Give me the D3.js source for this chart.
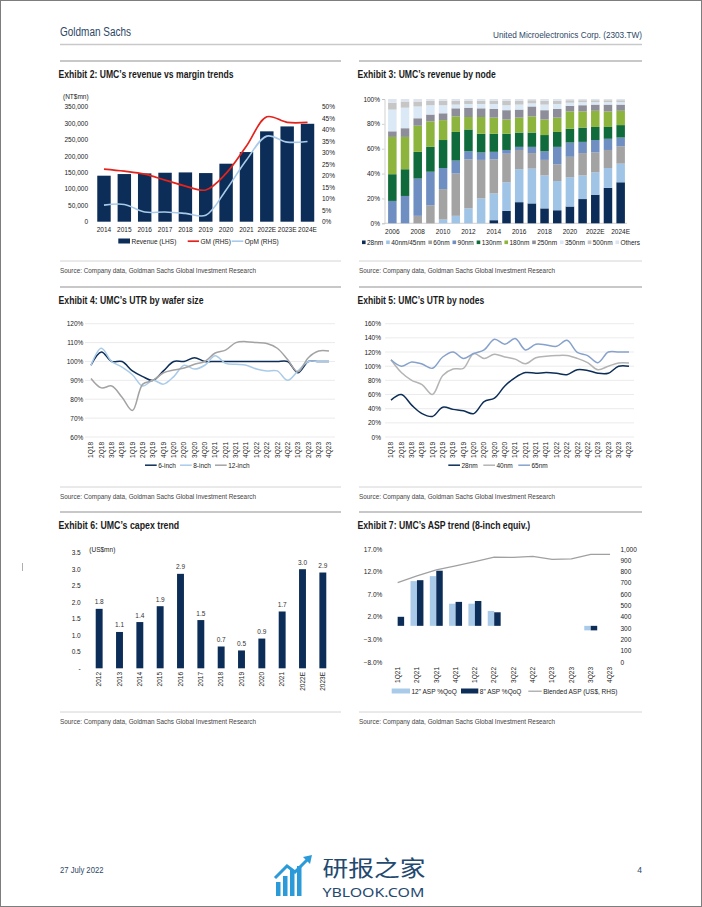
<!DOCTYPE html>
<html>
<head>
<meta charset="utf-8">
<title>UMC exhibits</title>
<script src="https://cdn.jsdelivr.net/npm/d3@7"></script>
<style>
  body { margin: 0; background: #fff; }
  svg { display: block; }
</style>
</head>
<body>
<svg id="page" width="702" height="907"></svg>
<script>
// ---------- data ----------

// Exhibit 2: revenue (NT$mn) and margins (%)
var revYears = ['2014','2015','2016','2017','2018','2019','2020','2021','2022E','2023E','2024E'];
var revenue = [140000,145000,147000,149000,150000,148000,176500,212000,275000,290000,298000];
var grossMargin = [22.9,22.0,20.7,18.1,15.5,13.8,21.0,32.9,45.6,43.2,43.2];
var opMargin = [7.2,7.5,4.2,4.2,3.6,2.8,13.8,26.8,37.2,34.6,34.9];
var revTicks = [0,50000,100000,150000,200000,250000,300000,350000];
var marginTicks = [0,5,10,15,20,25,30,35,40,45,50];

// Exhibit 3: revenue share by node (%)
var nodeYears = ['2006','2007','2008','2009','2010','2011','2012','2013','2014','2015','2016','2017','2018','2019','2020','2021','2022E','2023E','2024E'];
var nodeNames = ['28nm','40nm/45nm','60nm','90nm','130nm','180nm','250nm','350nm','500nm','Others'];
var node28 = [0,0,0,0,0,0,0,0,2.5,10,17,16,12,10.5,13.5,19.5,23,28.5,33];
var node40 = [0,0,0,0,3,6,12,20,21.5,23,26.5,28,26.5,23.5,23.5,19,18,16,15];
var node60 = [0,0,6,14.5,24.5,34,39.5,31,27.5,23,15.5,12.5,12.5,13.5,16.5,18,16,14.5,14];
var node90 = [18,22,30,27,17,10.5,6.5,6,6,3,2.5,5,7,14,11.5,9,10,9,7];
var node130 = [21.5,21.5,21.5,20,22.5,23,17.5,15,14.5,13,11.5,11.5,13,12,11,11.5,10.5,9.5,10];
var node180 = [30,26,21,20.5,16,12.5,10,13.5,13,11.5,12,13,12.5,11.5,14,13,13,12.5,11.5];
var node250 = [4.5,7,6,5.5,5.5,6.5,7.5,7,7,7.5,6.5,8,7.5,7,4.5,5,5,5.5,5];
var node350 = [17.5,16.5,9.5,7.5,6.5,3,3,3.5,4,4,4,2.5,4.5,4,2.5,2.5,2,2,2];
var node500 = [5.5,5,4,3.5,3.5,3,2.5,2.5,2.5,3.5,3,2.5,3,2.5,2,1.5,1.5,1.5,1.5];
var nodeOthers = [3,2,2,1.5,1.5,1.5,1.5,1.5,1.5,1.5,1.5,1,1.5,1.5,1,1,1,1,1];
var shareTicks = [0,20,40,60,80,100];

// Exhibits 4 and 5: utilisation (%)
var utrQuarters = ['1Q18','2Q18','3Q18','4Q18','1Q19','2Q19','3Q19','4Q19','1Q20','2Q20','3Q20','4Q20',
                   '1Q21','2Q21','3Q21','4Q21','1Q22','2Q22','3Q22','4Q22','1Q23','2Q23','3Q23','4Q23'];
var utr6inch = [98,105,100,100,95,92,90,95,100,100,102,100,100,100,100,100,100,100,100,100,94,100,100,100];
var utr8inch = [98,107,100,97,93,87,90,88,92,98,96,98,103,99,98.5,98,96,95,95,90,95,100,100,100];
var utr12inch = [91,86,87,81,74,88,90,94,95.5,96.5,98.5,100,104.5,106,110,110.5,110,109.5,107,101,94.5,102,105.5,105.5];
var waferTicks = [60,70,80,90,100,110,120];
var utr28 = [52,60,45,33,29,42,39,37,33,50,55,72,84,91,90,91,90,88,95,94,90,90,100,100];
var utr40 = [109,91,80,74,60,87,96,97,118,111,117,113,110,103.5,112,114,115,115,111,105,95,100,104.5,104.5];
var utr65 = [109,100,106,103,97,113,120,111,118,123,138,131,139,123,131,130,128,136.5,119.5,115,105,120,120,120];
var nodeUtrTicks = [0,20,40,60,80,100,120,140,160];

// Exhibit 6: capex
var capexYears = ['2012','2013','2014','2015','2016','2017','2018','2019','2020','2021','2022E','2023E'];
var capex = [1.8,1.1,1.4,1.88,2.86,1.46,0.66,0.54,0.9,1.72,3.0,2.9];
var capexTicks = [0,0.5,1,1.5,2,2.5,3,3.5];

// Exhibit 7: ASP trend
var aspQuarters = ['1Q21','2Q21','3Q21','4Q21','1Q22','2Q22','3Q22','4Q22','1Q23','2Q23','3Q23','4Q23'];
var asp12 = [0,9.9,11.0,4.9,4.9,3.3,0,0,0,0,-1.0,0];
var asp8 = [2.0,10.1,12.2,5.3,5.5,3.0,0,0,0,0,-1.0,0];
var blendedAsp = [702,762,815,850,888,928,926,935,908,913,952,952];
var aspPctTicks = [-8,-3,2,7,12,17];
var aspUsdTicks = [0,100,200,300,400,500,600,700,800,900,1000];

// ---------- styles ----------
var SANS = "'Liberation Sans', Arial, Helvetica, sans-serif";
var NARROW = "'Liberation Sans Narrow', 'Arial Narrow', 'Liberation Sans', sans-serif";
var NAVY = '#0c2d57';
var LIGHTBLUE = '#a9cbe9';
var GREY = '#a3a3a3';
var nodeColors = ['#0c2d57','#9fc4e6','#a3a3a3','#6f8fc2','#0f6b3b','#8db43c','#8d8e99','#dbe8f5','#c6c6c6','#dde4ee'];
var TEXT = '#222';
var FS = 6.5;

var svg = d3.select('#page');

svg.append('rect').attr('x', 0.5).attr('y', 0.5).attr('width', 701).attr('height', 906)
    .attr('fill', '#fff').attr('stroke', '#7d7d7d');

// header
svg.append('text').attr('x', 60).attr('y', 36)
    .attr('font-family', NARROW).attr('font-size', 12.5).attr('fill', '#2d4766')
    .attr('textLength', 71).attr('lengthAdjust', 'spacingAndGlyphs')
    .text('Goldman Sachs');
svg.append('text').attr('x', 642).attr('y', 37.5).attr('text-anchor', 'end')
    .attr('font-family', NARROW).attr('font-size', 9.5).attr('fill', '#2d4766')
    .attr('textLength', 149).attr('lengthAdjust', 'spacingAndGlyphs')
    .text('United Microelectronics Corp. (2303.TW)');
svg.append('line').attr('x1', 60).attr('x2', 642).attr('y1', 44.5).attr('y2', 44.5)
    .attr('stroke', '#c9c9c9').attr('stroke-width', 1.6);

// small mark in the left margin
svg.append('line').attr('x1', 22.5).attr('x2', 22.5).attr('y1', 563).attr('y2', 571)
    .attr('stroke', '#9a9a9a').attr('stroke-width', 0.8);

function panel(x0, x1, top, title, titleWidth) {
    var g = svg.append('g');
    g.append('line').attr('x1', x0).attr('x2', x1).attr('y1', top).attr('y2', top)
        .attr('stroke', '#c8c8c8').attr('stroke-width', 2);
    g.append('text').attr('x', x0 - 1.5).attr('y', top + 16.5)
        .attr('font-family', NARROW).attr('font-weight', 'bold').attr('font-size', 11)
        .attr('fill', '#1b1b1b')
        .attr('textLength', titleWidth).attr('lengthAdjust', 'spacingAndGlyphs')
        .text(title);
    g.append('line').attr('x1', x0).attr('x2', x1).attr('y1', top + 200).attr('y2', top + 200)
        .attr('stroke', '#d4d4d4').attr('stroke-width', 1);
    g.append('text').attr('x', x0).attr('y', top + 211.5)
        .attr('font-family', NARROW).attr('font-size', 7.5).attr('fill', '#444')
        .attr('textLength', 196).attr('lengthAdjust', 'spacingAndGlyphs')
        .text('Source: Company data, Goldman Sachs Global Investment Research');
    return g;
}

function yAxis(g, scale, ticks, fmt, x, side) {
    var ax = (side === 'left' ? d3.axisLeft(scale) : d3.axisRight(scale))
        .tickValues(ticks).tickFormat(fmt).tickSize(0).tickPadding(0);
    var a = g.append('g').attr('transform', 'translate(' + x + ',0)').call(ax);
    a.select('.domain').remove();
    a.selectAll('text').attr('font-family', SANS).attr('font-size', FS).attr('fill', TEXT);
    return a;
}

function rotatedLabels(g, cats, xpos, top) {
    g.selectAll(null).data(cats).enter().append('text')
        .attr('transform', function (d) { return 'translate(' + xpos(d) + ',' + top + ') rotate(-90)'; })
        .attr('text-anchor', 'end').attr('dy', '0.35em')
        .attr('font-family', SANS).attr('font-size', FS).attr('fill', TEXT)
        .text(function (d) { return d; });
}

function legendRect(g, x, y, w, color, txt) {
    g.append('rect').attr('x', x).attr('y', y - 5).attr('width', w).attr('height', 5).attr('fill', color);
    g.append('text').attr('x', x + w + 1.5).attr('y', y)
        .attr('font-family', SANS).attr('font-size', FS).attr('fill', TEXT).text(txt);
}

function legendLine(g, x, y, w, color, sw, txt) {
    g.append('line').attr('x1', x).attr('x2', x + w).attr('y1', y - 2.3).attr('y2', y - 2.3)
        .attr('stroke', color).attr('stroke-width', sw);
    g.append('text').attr('x', x + w + 1.5).attr('y', y)
        .attr('font-family', SANS).attr('font-size', FS).attr('fill', TEXT).text(txt);
}

var smooth = d3.curveCatmullRom.alpha(0.5);
var comma = d3.format(',');

// ---------- Exhibit 2 ----------
(function () {
    var g = panel(60, 341, 61, 'Exhibit 2: UMC\u2019s revenue vs margin trends', 175);
    var x = d3.scaleBand().domain(revYears).range([93.8, 317.7]).paddingInner(0.34).paddingOuter(0.17);
    var yL = d3.scaleLinear().domain([0, 350000]).range([221.7, 106.7]);
    var yR = d3.scaleLinear().domain([0, 50]).range([221.7, 106.7]);

    g.append('text').attr('x', 63).attr('y', 99).attr('font-family', SANS).attr('font-size', FS)
        .attr('fill', TEXT).text('(NT$mn)');
    yAxis(g, yL, revTicks, comma, 88, 'left');
    yAxis(g, yR, marginTicks, function (d) { return d + '%'; }, 322, 'right');

    g.selectAll('.rev').data(revenue).enter().append('rect')
        .attr('x', function (d, i) { return x(revYears[i]); })
        .attr('width', x.bandwidth())
        .attr('y', function (d) { return yL(d); })
        .attr('height', function (d) { return yL(0) - yL(d); })
        .attr('fill', NAVY);

    g.selectAll(null).data(revYears).enter().append('text')
        .attr('x', function (d) { return x(d) + x.bandwidth() / 2; }).attr('y', 232)
        .attr('text-anchor', 'middle').attr('font-family', SANS).attr('font-size', FS).attr('fill', TEXT)
        .text(function (d) { return d; });

    var line = d3.line()
        .x(function (d, i) { return x(revYears[i]) + x.bandwidth() / 2; })
        .y(function (d) { return yR(d); })
        .curve(smooth);
    g.append('path').datum(opMargin).attr('d', line).attr('fill', 'none')
        .attr('stroke', LIGHTBLUE).attr('stroke-width', 1.6);
    g.append('path').datum(grossMargin).attr('d', line).attr('fill', 'none')
        .attr('stroke', '#e3231c').attr('stroke-width', 1.7);

    legendRect(g, 118.3, 243.5, 11.7, NAVY, 'Revenue (LHS)');
    legendLine(g, 187.7, 243.5, 11.3, '#e3231c', 1.7, 'GM (RHS)');
    legendLine(g, 231.7, 243.5, 11.6, LIGHTBLUE, 1.6, 'OpM (RHS)');
})();

// ---------- Exhibit 3 ----------
(function () {
    var g = panel(359, 642, 61, 'Exhibit 3: UMC\u2019s revenue by node', 138.4);
    var x = d3.scaleBand().domain(nodeYears).range([386, 627]).paddingInner(0.33).paddingOuter(0.165);
    var y = d3.scaleLinear().domain([0, 100]).range([223.3, 99]);
    var series = [node28, node40, node60, node90, node130, node180, node250, node350, node500, nodeOthers];
    var table = nodeYears.map(function (yr, i) {
        var row = { year: yr };
        nodeNames.forEach(function (n, k) { row[n] = series[k][i]; });
        return row;
    });
    var stacked = d3.stack().keys(nodeNames)(table);

    var ax = d3.axisLeft(y).tickValues(shareTicks).tickFormat(function (d) { return d + '%'; })
        .tickSize(2.5).tickPadding(2);
    var a = g.append('g').attr('transform', 'translate(384.5,0)').call(ax);
    a.selectAll('line, path').attr('stroke', '#bdbdbd').attr('stroke-width', 0.7);
    a.selectAll('text').attr('font-family', SANS).attr('font-size', FS).attr('fill', TEXT);
    g.append('line').attr('x1', 384.5).attr('x2', 627).attr('y1', 223.3).attr('y2', 223.3)
        .attr('stroke', '#bdbdbd').attr('stroke-width', 0.7);

    g.selectAll('.layer').data(stacked).enter().append('g')
        .attr('fill', function (d, k) { return nodeColors[k]; })
        .selectAll('rect').data(function (d) { return d; }).enter().append('rect')
        .attr('x', function (d) { return x(d.data.year); })
        .attr('width', x.bandwidth())
        .attr('y', function (d) { return y(d[1]); })
        .attr('height', function (d) { return y(d[0]) - y(d[1]); });

    g.selectAll(null).data(nodeYears.filter(function (d, i) { return i % 2 === 0; })).enter().append('text')
        .attr('x', function (d) { return x(d) + x.bandwidth() / 2; }).attr('y', 233.5)
        .attr('text-anchor', 'middle').attr('font-family', SANS).attr('font-size', FS).attr('fill', TEXT)
        .text(function (d) { return d; });

    // legend laid out in one row from 362 to 640
    var lg = g.append('g');
    var items = lg.selectAll('g').data(nodeNames).enter().append('g');
    items.append('rect').attr('width', 3.6).attr('height', 3.6).attr('y', -4)
        .attr('fill', function (d, k) { return nodeColors[k]; });
    items.append('text').attr('x', 5).attr('y', 0).attr('font-family', SANS).attr('font-size', FS)
        .attr('fill', TEXT).text(function (d) { return d; });
    var widths = [];
    items.each(function () { widths.push(5 + d3.select(this).select('text').node().getComputedTextLength()); });
    var gap = (640 - 362 - d3.sum(widths)) / (nodeNames.length - 1);
    var cx = 362;
    items.attr('transform', function (d, k) { var t = 'translate(' + cx + ',244.5)'; cx += widths[k] + gap; return t; });
})();

// ---------- Exhibits 4 and 5 (utilisation lines) ----------
function utrChart(x0, x1, title, titleWidth, range, gridRange, labelX, domain, ticks, lines, legend) {
    var g = panel(x0, x1, 287, title, titleWidth);
    var x = d3.scalePoint().domain(utrQuarters).range(range);
    var y = d3.scaleLinear().domain(domain).range([437, 323.7]);

    g.selectAll('.grid').data(ticks).enter().append('line')
        .attr('x1', gridRange[0]).attr('x2', gridRange[1])
        .attr('y1', function (d) { return y(d); }).attr('y2', function (d) { return y(d); })
        .attr('stroke', '#e2e2e2').attr('stroke-width', 0.7);
    yAxis(g, y, ticks, function (d) { return d + '%'; }, labelX, 'left');
    rotatedLabels(g, utrQuarters, x, 442);

    var line = d3.line()
        .x(function (d, i) { return x(utrQuarters[i]); })
        .y(function (d) { return y(d); })
        .curve(smooth);
    lines.forEach(function (l) {
        g.append('path').datum(l.values).attr('d', line).attr('fill', 'none')
            .attr('stroke', l.color).attr('stroke-width', 1.5);
    });
    legend.forEach(function (l) { legendLine(g, l.x, 467.5, 11.7, l.color, 1.5, l.name); });
}

utrChart(60, 341, 'Exhibit 4: UMC\u2019s UTR by wafer size', 145, [91, 329], [85, 335], 83.3,
    [60, 120], waferTicks,
    [{ values: utr6inch, color: NAVY }, { values: utr8inch, color: LIGHTBLUE }, { values: utr12inch, color: GREY }],
    [{ x: 145, color: NAVY, name: '6-inch' }, { x: 180, color: LIGHTBLUE, name: '8-inch' }, { x: 215, color: GREY, name: '12-inch' }]);

utrChart(359, 642, 'Exhibit 5: UMC\u2019s UTR by nodes', 126.7, [391, 629], [385, 634], 381,
    [0, 160], nodeUtrTicks,
    [{ values: utr28, color: NAVY }, { values: utr40, color: '#b4b4b4' }, { values: utr65, color: '#86a2cc' }],
    [{ x: 448.3, color: NAVY, name: '28nm' }, { x: 483.3, color: '#b4b4b4', name: '40nm' }, { x: 518.3, color: '#86a2cc', name: '65nm' }]);

// ---------- Exhibit 6 ----------
(function () {
    var g = panel(60, 341, 512, 'Exhibit 6: UMC\u2019s capex trend', 120.7);
    var x = d3.scaleBand().domain(capexYears).range([89, 333]).paddingInner(0.66).paddingOuter(0.33);
    var y = d3.scaleLinear().domain([0, 3.5]).range([668.3, 552.7]);

    g.append('text').attr('x', 89.3).attr('y', 551.5).attr('font-family', SANS).attr('font-size', FS)
        .attr('fill', TEXT).text('(US$mn)');
    yAxis(g, y, capexTicks, function (d) { return d === 0 ? '-' : d3.format('.1f')(d); }, 80.7, 'left');

    g.selectAll('.capex').data(capex).enter().append('rect')
        .attr('x', function (d, i) { return x(capexYears[i]); })
        .attr('width', x.bandwidth())
        .attr('y', function (d) { return y(d); })
        .attr('height', function (d) { return y(0) - y(d); })
        .attr('fill', NAVY);
    g.selectAll('.capexLbl').data(capex).enter().append('text')
        .attr('x', function (d, i) { return x(capexYears[i]) + x.bandwidth() / 2; })
        .attr('y', function (d) { return y(d) - 4.5; })
        .attr('text-anchor', 'middle').attr('font-family', SANS).attr('font-size', FS).attr('fill', '#333')
        .text(function (d) { return d3.format('.1f')(d); });

    rotatedLabels(g, capexYears, function (d) { return x(d) + x.bandwidth() / 2; }, 672);
})();

// ---------- Exhibit 7 ----------
(function () {
    var g = panel(359, 642, 512, 'Exhibit 7: UMC\u2019s ASP trend (8-inch equiv.)', 172.7);
    var x = d3.scaleBand().domain(aspQuarters).range([388, 619.7]).paddingInner(0.33).paddingOuter(0.165);
    var inner = d3.scaleBand().domain(['12', '8']).range([0, x.bandwidth()]);
    var yL = d3.scaleLinear().domain([-8, 17]).range([662, 549]);
    var yR = d3.scaleLinear().domain([0, 1000]).range([662, 549]);

    yAxis(g, yL, aspPctTicks, function (d) { return d3.format('.1f')(d) + '%'; }, 382.3, 'left');
    yAxis(g, yR, aspUsdTicks, comma, 620.5, 'right');

    var groups = [{ key: '12', values: asp12, color: LIGHTBLUE }, { key: '8', values: asp8, color: NAVY }];
    groups.forEach(function (s) {
        g.selectAll(null).data(s.values).enter().append('rect')
            .attr('x', function (d, i) { return x(aspQuarters[i]) + inner(s.key); })
            .attr('width', inner.bandwidth())
            .attr('y', function (d) { return yL(Math.max(0, d)); })
            .attr('height', function (d) { return Math.abs(yL(d) - yL(0)); })
            .attr('fill', s.color);
    });

    var line = d3.line()
        .x(function (d, i) { return x(aspQuarters[i]) + x.bandwidth() / 2; })
        .y(function (d) { return yR(d); });
    g.append('path').datum(blendedAsp).attr('d', line).attr('fill', 'none')
        .attr('stroke', '#a0a0a0').attr('stroke-width', 1.2);

    rotatedLabels(g, aspQuarters, function (d) { return x(d) + x.bandwidth() / 2; }, 667);

    legendRect(g, 391.7, 693.5, 18.3, LIGHTBLUE, '12" ASP %QoQ');
    legendRect(g, 461, 693.5, 17.3, NAVY, '8" ASP %QoQ');
    legendLine(g, 528.3, 693.5, 13.4, '#a0a0a0', 1.2, 'Blended ASP (US$, RHS)');
})();

// ---------- footer ----------
svg.append('text').attr('x', 60).attr('y', 873).attr('font-family', NARROW).attr('font-size', 8.5)
    .attr('fill', '#2d4766').attr('textLength', 43.4).attr('lengthAdjust', 'spacingAndGlyphs')
    .text('27 July 2022');
svg.append('text').attr('x', 642).attr('y', 873).attr('text-anchor', 'end').attr('font-family', NARROW)
    .attr('font-size', 8.5).attr('fill', '#2d4766').text('4');

// watermark
var wm = svg.append('g');
var wmBars = [[276, 882, 14], [283, 876, 20], [290, 870, 26], [297, 866, 30]];
wm.selectAll('rect').data(wmBars).enter().append('rect')
    .attr('x', function (d) { return d[0]; }).attr('y', function (d) { return d[1]; })
    .attr('width', 4.5).attr('height', function (d) { return d[2]; })
    .attr('fill', '#2a9ad8');
wm.append('path').attr('d', 'M275,878 L287,866 L295,872 L309,858')
    .attr('fill', 'none').attr('stroke', '#2a9ad8').attr('stroke-width', 3);
wm.append('path').attr('d', 'M303,857 L312,855 L310,864 Z').attr('fill', '#2a9ad8');
wm.append('text').attr('x', 322.4).attr('y', 876)
    .attr('font-family', "'Noto Sans CJK SC', sans-serif").attr('font-size', 22).attr('fill', '#24496f')
    .attr('textLength', 103).attr('lengthAdjust', 'spacingAndGlyphs').text('研报之家');
wm.append('text').attr('x', 322.4).attr('y', 897)
    .attr('font-family', "'Noto Sans', sans-serif").attr('font-size', 12.5).attr('fill', '#24496f')
    .attr('textLength', 102).attr('lengthAdjust', 'spacingAndGlyphs').text('YBLOOK.COM');
</script>
</body>
</html>
